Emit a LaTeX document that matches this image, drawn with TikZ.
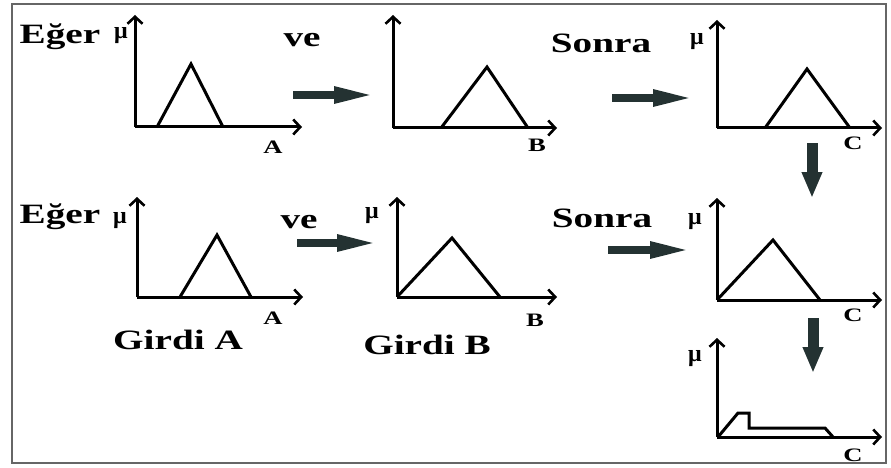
\documentclass[tikz,border=0pt]{standalone}
\usepackage{fontspec}
\usepackage{graphicx}
\setmainfont{Liberation Serif}
\usetikzlibrary{arrows.meta}
\definecolor{arrowdark}{RGB}{36,50,50}
\newcommand{\wtext}[1]{\scalebox{1.4}[1]{#1}}
\tikzset{
  biglabel/.style={font=\bfseries\fontsize{28}{30}\selectfont},
  axislabel/.style={font=\bfseries\fontsize{19}{21}\selectfont},
  mulabel/.style={font=\bfseries\fontsize{24}{26}\selectfont},
  axisline/.style={line width=3pt,-{Straight Barb[length=7pt,width=15pt,line width=2.6pt]}},
  curve/.style={line width=3pt,line join=miter},
  flowright/.style={arrowdark,line width=8pt,-{Triangle[length=42pt,width=15pt]}},
  flowdown/.style={arrowdark,line width=11pt,-{Triangle[length=26pt,width=19pt]}}
}
\begin{document}
\begin{tikzpicture}[x=1pt,y=-1pt]
  \useasboundingbox (0,0) rectangle (891,468);
  \draw[gray!80!black,line width=1.6pt] (12,4) rectangle (886,463);
  % axes: origin x/y, top of mu axis, end of x axis
  \foreach \ox/\oy/\ty/\ex in {135/127/15/302, 393/128/15/557, 717/128/20/882,
      137/297/197/303, 397/297/197/557, 717/300/198/882, 717/437/338/882}{
    \draw[axisline] (\ox,\oy) -- (\ox,\ty);
    \draw[axisline] (\ox,\oy) -- (\ex,\oy);
  }
  % membership functions
  \draw[curve] (157,127) -- (191,64) -- (223,127);
  \draw[curve] (441,128) -- (487,67) -- (528,128);
  \draw[curve] (765,128) -- (807,69) -- (850,128);
  \draw[curve] (180,297) -- (217,235) -- (251,297);
  \draw[curve] (397,297) -- (452,238) -- (500,297);
  \draw[curve] (717,300) -- (773,240) -- (820,300);
  \draw[curve] (718,437) -- (738,413) -- (749,413) -- (749,428) -- (825,428) -- (833,437);
  % texts
  \node[biglabel] (eger1) at (60,37) {\wtext{Eğer}};
  \node[biglabel] (ve1) at (302,40) {\wtext{ve}};
  \node[biglabel] (sonra1) at (601,43) {\wtext{Sonra}};
  \node[biglabel] (eger2) at (60,217) {\wtext{Eğer}};
  \node[biglabel] (ve2) at (299,222) {\wtext{ve}};
  \node[biglabel] (sonra2) at (602,218) {\wtext{Sonra}};
  \node[biglabel] (girdia) at (178,340) {\wtext{Girdi A}};
  \node[biglabel] (girdib) at (427,345) {\wtext{Girdi B}};
  \foreach \mx/\my/\nm in {121/36/mua, 697/42/muc, 120/221/mud, 372/216/mue, 695/222/muf, 695/359/mug}
    \node[mulabel] (\nm) at (\mx,\my) {μ};
  \foreach \lx/\ly/\txt/\nm in {273/147/A/la, 537/145/B/lb, 853/143/C/lc,
      273/318/A/ld, 535/320/B/le, 853/315/C/lf, 853/455/C/lg}
    \node[axislabel] (\nm) at (\lx,\ly) {\wtext{\txt}};
  % block arrows
  \coordinate (h1s) at (293,95);  \coordinate (h1e) at (376,95);
  \coordinate (h2s) at (612,98);  \coordinate (h2e) at (695,98);
  \coordinate (h3s) at (297,243); \coordinate (h3e) at (379,243);
  \coordinate (h4s) at (608,250); \coordinate (h4e) at (692,250);
  \coordinate (v1s) at (812,143); \coordinate (v1e) at (812,198);
  \coordinate (v2s) at (813,318); \coordinate (v2e) at (813,373);
  \draw[flowright] (h1s) -- (h1e);
  \draw[flowright] (h2s) -- (h2e);
  \draw[flowright] (h3s) -- (h3e);
  \draw[flowright] (h4s) -- (h4e);
  \draw[flowdown] (v1s) -- (v1e);
  \draw[flowdown] (v2s) -- (v2e);
\end{tikzpicture}
\end{document}
